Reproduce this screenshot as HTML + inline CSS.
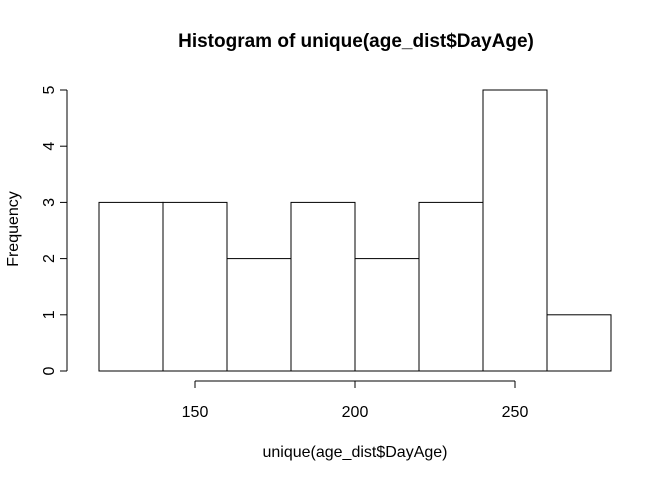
<!DOCTYPE html>
<html><head><meta charset="utf-8"><style>body{margin:0;background:#fff}svg{display:block;font-family:"Liberation Sans",Arial,sans-serif}</style></head>
<body>
<svg id="chart" width="672" height="480" viewBox="0 0 672 480">
<rect width="672" height="480" fill="#fff"/>
<text x="356" y="47" text-anchor="middle" font-size="19" font-weight="bold">Histogram of unique(age_dist$DayAge)</text>
<text x="355" y="457" text-anchor="middle" font-size="16">unique(age_dist$DayAge)</text>
<text x="18" y="229" text-anchor="middle" font-size="16" transform="rotate(-90 18 229)">Frequency</text>
<g id="bars"></g><g id="xaxis"></g><g id="yaxis"></g>
</svg>
<script>
const binStarts=[120,140,160,180,200,220,240,260];
const binWidth=20;
const counts=[3,3,2,3,2,3,5,1];
const xTicks=[150,200,250];
const yTicks=[0,1,2,3,4,5];
const NS="http://www.w3.org/2000/svg";
function sx(v){return 99+(v-120)*3.2;}
function sy(v){return 371-v*56.2;}
function mk(t,a,p){const e=document.createElementNS(NS,t);for(const k in a)e.setAttribute(k,a[k]);p.appendChild(e);return e;}
const bars=document.getElementById('bars');
binStarts.forEach((b,i)=>{
 const r=mk('rect',{x:sx(b),y:sy(counts[i]),width:sx(b+binWidth)-sx(b),height:sy(0)-sy(counts[i]),fill:'#fff',stroke:'#000','stroke-width':1},bars);
 
 
});
const xa=document.getElementById('xaxis');
const xl=mk('line',{x1:sx(xTicks[0]),x2:sx(xTicks[xTicks.length-1]),y1:381,y2:381,stroke:'#000'},xa);


xTicks.forEach(t=>{
 mk('line',{x1:sx(t),x2:sx(t),y1:381,y2:388,stroke:'#000'},xa);
 const tx=mk('text',{x:sx(t),y:417,'text-anchor':'middle','font-size':16},xa);tx.textContent=t;
 
 
});
const ya=document.getElementById('yaxis');
const yl=mk('line',{x1:67,x2:67,y1:sy(yTicks[0]),y2:sy(yTicks[yTicks.length-1]),stroke:'#000'},ya);


yTicks.forEach(t=>{
 mk('line',{x1:60,x2:67,y1:sy(t),y2:sy(t),stroke:'#000'},ya);
 const y=sy(t);
 const tx=mk('text',{x:54,y:y,'text-anchor':'middle','font-size':16,transform:'rotate(-90 54 '+y+')'},ya);tx.textContent=t;
 
 
});
</script>
</body></html>
